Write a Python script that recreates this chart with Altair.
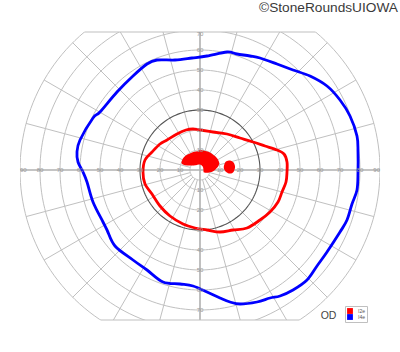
import altair as alt
import numpy as np
import pandas as pd

# ---- data (visual-field degrees: x = right +, y = up +) ----
i4e_x = [-58.5, -61, -61.5, -60, -53.5, -50, -41.5, -33.5, -26.5, -21.5, -12.5, -4, 3.5, 13.5, 18.5, 25, 30,
         38.5, 46.5, 55, 63.5, 70, 75, 78.5, 79, 79, 78.5, 76, 73.5, 70, 63.5, 58.5, 53.5, 46.5, 40, 35, 28.5,
         20, 15, 10, 3.5, -3.5, -10, -18.5, -26.5, -33.5, -42.5, -46.5, -48.5, -53.5, -56.5]
i4e_y = [-1, 4, 9, 15, 26, 29, 39, 47, 53, 55, 55, 56, 57, 59, 58, 57, 56, 53, 50, 47, 42, 35, 27, 17, 9, -1,
         -10, -17, -25, -31, -41, -48, -55, -60, -63, -64, -66, -67, -66, -64, -61, -58, -57, -56, -50, -45,
         -38, -30, -26, -16, -6]

i2e_x = [-28.5, -27.5, -24, -20, -16.5, -11.5, -7, -3.5, 0, 6.5, 13.5, 20, 26.5, 32.5, 38.5, 42, 43.5, 43.5,
         43, 41, 39, 35, 30, 23.5, 16.5, 10, 3.5, -2.5, -8.5, -15, -20, -24, -27.5]
i2e_y = [-1, 5, 9, 13, 15, 18, 20, 20.5, 20, 19, 18, 16, 14, 12, 10, 8, 4, -1, -6, -11, -16, -21, -25, -29,
         -30, -31, -30, -29, -27, -23, -18, -12, -7]

# central I2e island
island_x = [-9.3, -9.0, -7.5, -5.0, -3.0, -2.0, -0.5, 0.5, 1.0, 1.5, 1.7, 1.8, 3.3, 5.0, 6.6, 8.3, 9.2, 9.7]
island_top = [3.8, 4.8, 6.9, 8.25, 9.1, 9.3, 9.8, 9.9, 9.9, 9.8, 9.8, 9.75, 9.4, 8.7, 7.6, 6.1, 4.8, 3.4]
island_bot = [3.6, 3.0, 2.4, 2.25, 2.3, 2.4, 2.7, 2.5, 2.1, 1.4, 0.3, -1.1, -1.4, -1.1, -0.6, 0.9, 2.0, 3.2]

# small I2e spot
spot_x = [11.9, 12.5, 13.5, 14.5, 15.5, 16.5, 17.2, 17.5]
spot_top = [1.8, 3.6, 4.5, 4.8, 4.6, 4.0, 3.0, 2.0]
spot_bot = [0.8, -0.4, -1.3, -1.8, -1.8, -1.3, 0.0, 1.0]

series_names = ["I2e", "I4e"]
series_colors = ["#ff0000", "#0000ff"]

rings = [5, 10, 20, 30, 40, 50, 60, 70, 80, 90]
dark_ring = 30
spoke_angles = list(range(0, 360, 15))
h_labels = [10, 20, 30, 40, 50, 60, 70, 80]
edge_label = [90]
v_labels = [10, 20, 30, 40, 50, 60, 70]
y_top, y_bot = 69, -75
credit = ["\u00a9StoneRoundsUIOWA"]
eye = ["OD"]

# ---- build tables ----
X = alt.Scale(domain=[-90, 90], nice=False, zero=False)
Y = alt.Scale(domain=[y_bot, y_top], nice=False, zero=False)
C = alt.Scale(domain=series_names, range=series_colors)
GRID = "#c0c0c0"

ring_rows = []
for r in rings:
    for k, t in enumerate(np.radians(np.arange(0, 361, 2))):
        ring_rows.append({"ring": r, "i": k, "x": r * np.cos(t), "y": r * np.sin(t)})
ring_df = pd.DataFrame(ring_rows)

spk = []
for a in spoke_angles:
    if a % 90 == 0:
        continue
    t = np.radians(a)
    spk.append({"x": 5 * np.cos(t), "y": 5 * np.sin(t), "x2": 90 * np.cos(t), "y2": 90 * np.sin(t)})
spoke_df = pd.DataFrame(spk)

axes_df = pd.DataFrame([
    {"x": -90, "y": 0, "x2": 90, "y2": 0},
    {"x": 0, "y": y_bot, "x2": 0, "y2": y_top},
])
chord_df = pd.DataFrame([
    {"x": -np.sqrt(90**2 - y**2), "x2": np.sqrt(90**2 - y**2), "y": y, "y2": y} for y in (y_top, y_bot)
])

curves = pd.DataFrame(
    [{"series": "I4e", "i": k, "x": a, "y": b} for k, (a, b) in enumerate(zip(i4e_x, i4e_y))]
    + [{"series": "I2e", "i": k, "x": a, "y": b} for k, (a, b) in enumerate(zip(i2e_x, i2e_y))]
)
island_df = pd.DataFrame({"x": island_x, "top": island_top, "bot": island_bot})
spot_df = pd.DataFrame({"x": spot_x, "top": spot_top, "bot": spot_bot})

lab_rows = []
for v in h_labels:
    lab_rows += [{"x": -v, "y": 0, "t": str(v)}, {"x": v, "y": 0, "t": str(v)}]
for v in v_labels:
    lab_rows += [{"x": 0, "y": min(v, 68.0), "t": str(v)}, {"x": 0, "y": -v, "t": str(v)}]
lab_df = pd.DataFrame(lab_rows)
left_edge = pd.DataFrame({"x": [-v for v in edge_label], "y": 0, "t": [str(v) for v in edge_label]})
right_edge = pd.DataFrame({"x": edge_label, "y": 0, "t": [str(v) for v in edge_label]})

def xy(xf="x", yf="y"):
    return dict(x=alt.X(f"{xf}:Q", scale=X, axis=None), y=alt.Y(f"{yf}:Q", scale=Y, axis=None))

rings_layer = alt.Chart(ring_df[ring_df.ring != dark_ring]).mark_line(
    clip=True, color=GRID, strokeWidth=1).encode(**xy(), detail="ring:N", order="i:Q")
dark_layer = alt.Chart(ring_df[ring_df.ring == dark_ring]).mark_line(
    clip=True, color="#555555", strokeWidth=1.1).encode(**xy(), order="i:Q")
spoke_layer = alt.Chart(spoke_df).mark_rule(clip=True, color=GRID, strokeWidth=1).encode(
    **xy(), x2="x2:Q", y2="y2:Q")
axes_layer = alt.Chart(axes_df).mark_rule(clip=True, color="#b0b0b0", strokeWidth=1.6).encode(
    **xy(), x2="x2:Q", y2="y2:Q")
chord_layer = alt.Chart(chord_df).mark_rule(color=GRID, strokeWidth=1.2).encode(
    **xy(), x2="x2:Q", y2="y2:Q")

island_layer = alt.Chart(island_df).mark_area(color="#ff0000", interpolate="monotone").encode(
    x=alt.X("x:Q", scale=X, axis=None), y=alt.Y("top:Q", scale=Y, axis=None), y2="bot:Q")
spot_layer = alt.Chart(spot_df).mark_area(color="#ff0000", interpolate="monotone").encode(
    x=alt.X("x:Q", scale=X, axis=None), y=alt.Y("top:Q", scale=Y, axis=None), y2="bot:Q")

curve_layer = alt.Chart(curves).mark_line(interpolate="cardinal-closed", strokeWidth=2.8).encode(
    **xy(), order="i:Q",
    color=alt.Color("series:N", scale=C,
                    legend=alt.Legend(title=None, orient="none", legendX=325, legendY=274,
                                      symbolType="square", symbolSize=8, symbolStrokeWidth=3,
                                      labelFontSize=5, labelColor="#555555", labelFont="Liberation Sans",
                                      labelExpr="datum.label + '      '",
                                      padding=2, rowPadding=0, labelOffset=5, clipHeight=6,
                                      strokeColor="#c0c0c0", fillColor="white")))

lab_style = dict(fontSize=6, color="#999999", font="Liberation Sans", baseline="middle")
lab_layer = alt.Chart(lab_df).mark_text(align="center", **lab_style).encode(**xy(), text="t:N")
ledge_layer = alt.Chart(left_edge).mark_text(align="left", **lab_style).encode(**xy(), text="t:N")
redge_layer = alt.Chart(right_edge).mark_text(align="right", **lab_style).encode(**xy(), text="t:N")

credit_layer = alt.Chart(pd.DataFrame({"t": credit})).mark_text(
    align="right", baseline="middle", fontSize=13.7, color="#3a3a3a", font="Liberation Sans").encode(
    x=alt.value(378), y=alt.value(-24), text="t:N")
eye_layer = alt.Chart(pd.DataFrame({"t": eye})).mark_text(
    align="center", baseline="middle", fontSize=10.5, color="#444444", font="Liberation Sans").encode(
    x=alt.value(308.5), y=alt.value(284), text="t:N")

chart = alt.layer(
    rings_layer, spoke_layer, axes_layer, chord_layer, dark_layer,
    island_layer, spot_layer, curve_layer,
    lab_layer, ledge_layer, redge_layer, credit_layer, eye_layer,
).properties(
    width=360, height=288,
    autosize=alt.AutoSizeParams(type="none"),
    padding={"left": 20, "top": 32, "right": 20, "bottom": 32},
    background="white",
).configure_view(strokeWidth=0)

chart.save("out.html", embed_options={"renderer": "svg", "actions": False})
